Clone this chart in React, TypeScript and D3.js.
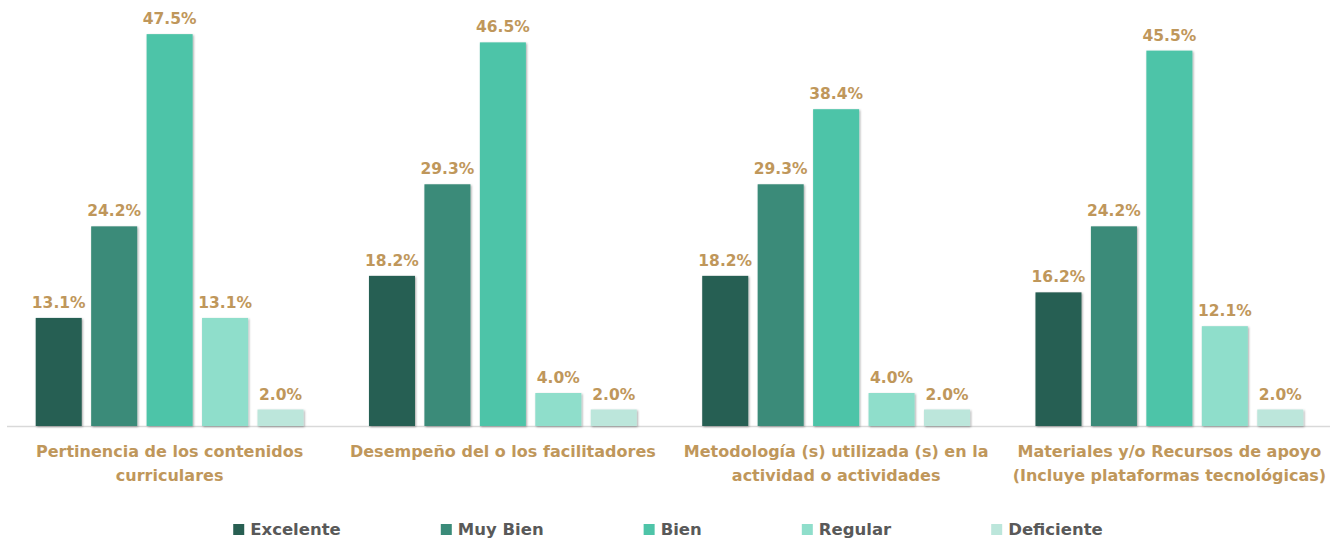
import React, { useEffect, useRef } from "react";
import * as d3 from "d3";

const categories: string[][] = [
  ["Pertinencia de los contenidos", "curriculares"],
  ["Desempeño del o los facilitadores"],
  ["Metodología (s) utilizada (s) en la", "actividad o actividades"],
  ["Materiales y/o Recursos de apoyo", "(Incluye plataformas tecnológicas)"],
];
const seriesNames = ["Excelente", "Muy Bien", "Bien", "Regular", "Deficiente"];
const seriesColors = ["#285F52", "#3A8B79", "#4EC4A8", "#8FDECB", "#BCE6DB"];
const excelente = [13.1, 18.2, 18.2, 16.2];
const muyBien = [24.2, 29.3, 29.3, 24.2];
const bien = [47.5, 46.5, 38.4, 45.5];
const regular = [13.1, 4.0, 4.0, 12.1];
const deficiente = [2.0, 2.0, 2.0, 2.0];
const seriesValues = [excelente, muyBien, bien, regular, deficiente];

const W = 1330;
const H = 542;
const FONT = "'DejaVu Sans', sans-serif";
const LABEL_COLOR = "#BF975B";

export default function App() {
  const ref = useRef<SVGSVGElement>(null);
  useEffect(() => {
    const svg = d3.select(ref.current);
    svg.selectAll("*").remove();

    const defs = svg.append("defs");
    const f = defs.append("filter").attr("id", "shadow").attr("x", "-20%").attr("y", "-20%").attr("width", "140%").attr("height", "140%");
    f.append("feDropShadow").attr("dx", 1).attr("dy", 1).attr("stdDeviation", 1).attr("flood-color", "#000").attr("flood-opacity", 0.35);

    const keys = categories.map((c) => c.join(" "));
    const x0 = d3.scaleBand<string>().domain(keys).range([3, 1336]).paddingInner(0).paddingOuter(0);
    const x1 = d3.scaleBand<string>().domain(seriesNames).range([0, x0.bandwidth()]).paddingInner(0.17).paddingOuter(0.59);
    const y = d3.scaleLinear().domain([0, 50]).range([426, 13.5]);

    svg.append("line").attr("x1", 7).attr("x2", W).attr("y1", y(0) + 0.5).attr("y2", y(0) + 0.5).attr("stroke", "#D9D9D9").attr("stroke-width", 1.5);

    const groups = svg.selectAll("g.grp").data(keys).join("g").attr("class", "grp").attr("transform", (d) => `translate(${x0(d)},0)`);

    groups.each(function (key, gi) {
      const g = d3.select(this);
      seriesNames.forEach((s, si) => {
        const v = seriesValues[si][gi];
        g.append("rect")
          .attr("x", x1(s)!)
          .attr("y", y(v))
          .attr("width", x1.bandwidth())
          .attr("height", y(0) - y(v))
          .attr("fill", seriesColors[si])
          .attr("filter", "url(#shadow)");
        g.append("text")
          .attr("x", x1(s)! + x1.bandwidth() / 2)
          .attr("y", y(v) - 10)
          .attr("text-anchor", "middle")
          .attr("font-family", FONT)
          .attr("font-weight", 700)
          .attr("font-size", 15.5)
          .attr("fill", LABEL_COLOR)
          .text(v.toFixed(1) + "%");
      });
      const lines = categories[gi];
      lines.forEach((ln, li) => {
        g.append("text")
          .attr("x", x0.bandwidth() / 2)
          .attr("y", 457 + li * 24)
          .attr("text-anchor", "middle")
          .attr("font-family", FONT)
          .attr("font-weight", 700)
          .attr("font-size", 16)
          .attr("fill", LABEL_COLOR)
          .text(ln);
      });
    });

    const leg = svg.append("g");
    const items = seriesNames.map((s, i) => {
      const it = leg.append("g");
      it.append("rect").attr("x", 0).attr("y", 524).attr("width", 11).attr("height", 11).attr("fill", seriesColors[i]);
      const t = it.append("text").attr("x", 17).attr("y", 535).attr("font-family", FONT).attr("font-weight", 700).attr("font-size", 16.5).attr("fill", "#595959").text(s);
      const w = (t.node() as SVGTextElement).getComputedTextLength();
      return { it, w: 17 + w };
    });
    const gap = 100;
    const total = d3.sum(items, (d) => d.w) + gap * (items.length - 1);
    let cx = 668 - total / 2;
    items.forEach((d) => {
      d.it.attr("transform", `translate(${cx},0)`);
      cx += d.w + gap;
    });
  }, []);
  return (
    <svg ref={ref} width={W} height={H} style={{ position: "absolute", left: 0, top: 0, background: "#fff" }} />
  );
}
